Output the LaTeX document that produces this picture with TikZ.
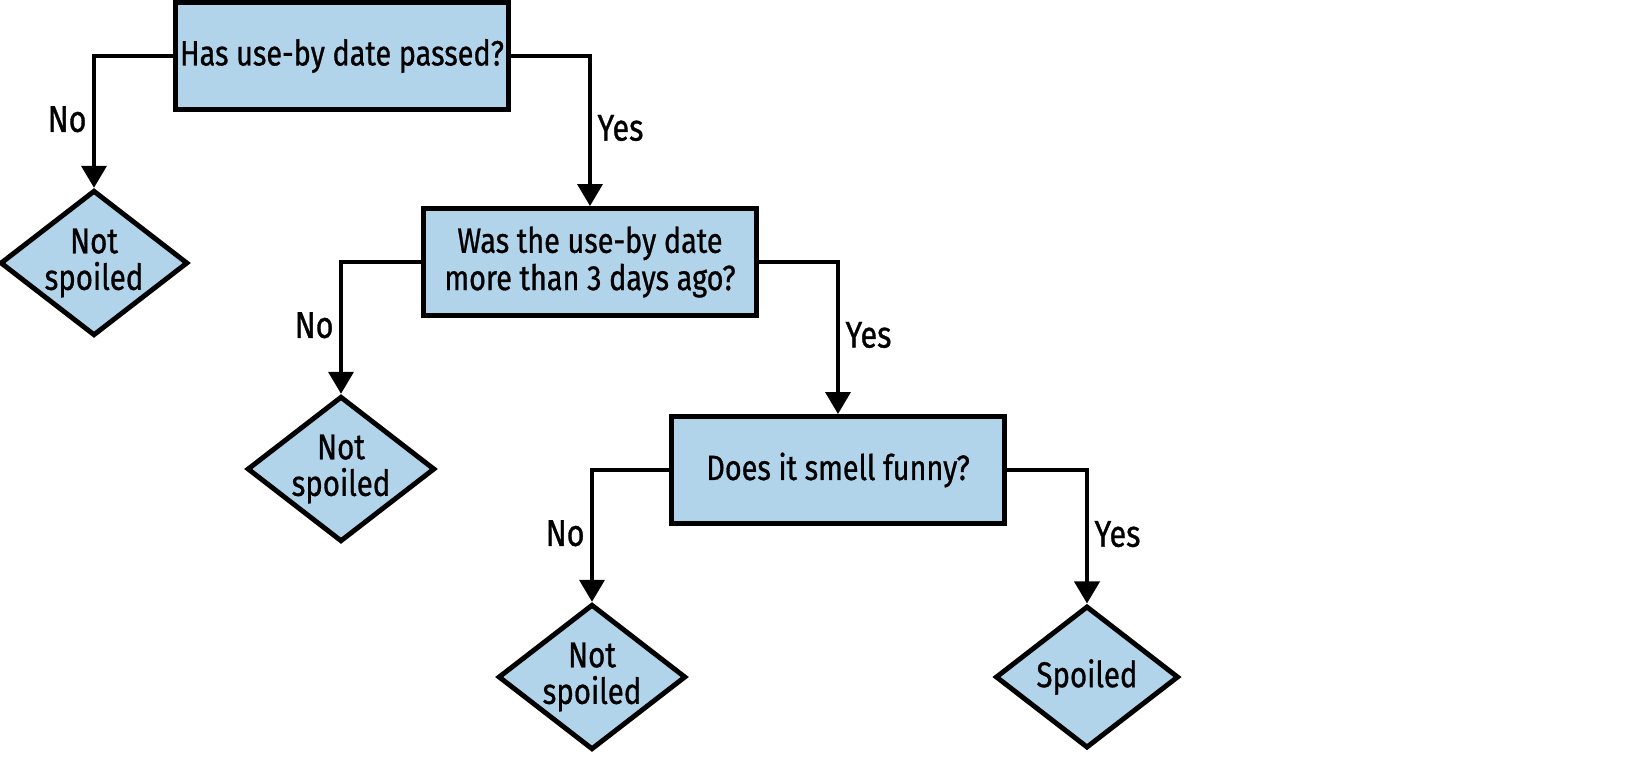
\documentclass[tikz,border=0pt]{standalone}
\usepackage{fontspec}
\setmainfont[FakeStretch=0.82,FakeBold=0.8]{Fira Sans}
\usetikzlibrary{shapes.geometric,arrows.meta}
\definecolor{boxblue}{RGB}{177,212,234}
\tikzset{
    question/.style={draw, line width=1.4pt, fill=boxblue, minimum width=3.32cm,
        minimum height=1.07cm, inner sep=0pt, align=center,
        font=\fontsize{10}{10.6}\selectfont},
    outcome/.style={diamond, aspect=1.29, draw, line width=1.4pt, fill=boxblue,
        minimum width=1.83cm, minimum height=1.42cm, inner sep=0pt, align=center,
        font=\fontsize{10.2}{10.4}\selectfont},
    branch/.style={line width=1.05pt, -{Triangle[width=0.25cm,length=0.22cm]}},
    answer/.style={inner sep=1.6pt, font=\fontsize{10.6}{12}\selectfont}
}
\begin{document}
\begin{tikzpicture}[x=0.01cm, y=-0.01cm]  % coordinates in pixels, y downwards
    \useasboundingbox (0,0) rectangle (1639,778);

    % questions
    \node[question] (q1) at (342,56) {Has use-by date passed?};
    \node[question] (q2) at (590,262) {Was the use-by date\\more than 3 days ago?};
    \node[question] (q3) at (838,470) {Does it smell funny?};

    % outcomes
    \node[outcome] (d1) at (94,263) {Not\\spoiled};
    \node[outcome] (d2) at (341,469) {Not\\spoiled};
    \node[outcome] (d3) at (592,677) {Not\\spoiled};
    \node[outcome] (d4) at (1087,677) {Spoiled};

    % branches
    \draw[branch] (q1.west) -| node[answer, left, pos=0.74] (no1) {No} (d1.north);
    \draw[branch] (q1.east) -| node[answer, right, pos=0.74] (yes1) {Yes} (q2.north);
    \draw[branch] (q2.west) -| node[answer, left, pos=0.74] (no2) {No} (d2.north);
    \draw[branch] (q2.east) -| node[answer, right, pos=0.74] (yes2) {Yes} (q3.north);
    \draw[branch] (q3.west) -| node[answer, left, pos=0.74] (no3) {No} (d3.north);
    \draw[branch] (q3.east) -| node[answer, right, pos=0.74] (yes3) {Yes} (d4.north);

\end{tikzpicture}
\end{document}
